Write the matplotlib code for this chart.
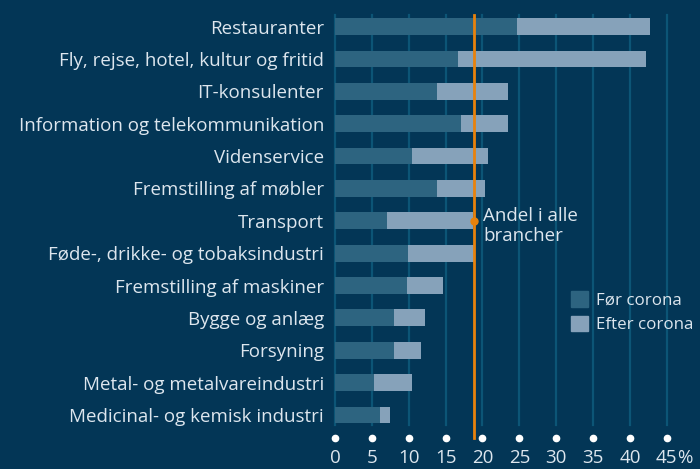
import matplotlib.pyplot as plt
from matplotlib.patches import Patch
import matplotlib.transforms as mtransforms

plt.rcParams["font.family"] = ["Open Sans", "DejaVu Sans"]

brancher = ["Restauranter", "Fly, rejse, hotel, kultur og fritid", "IT-konsulenter",
            "Information og telekommunikation", "Videnservice", "Fremstilling af møbler",
            "Transport", "Føde-, drikke- og tobaksindustri", "Fremstilling af maskiner",
            "Bygge og anlæg", "Forsyning", "Metal- og metalvareindustri",
            "Medicinal- og kemisk industri"]
foer = [24.7, 16.7, 13.9, 17.1, 10.4, 13.9, 7.1, 9.9, 9.8, 8.0, 8.0, 5.3, 6.1]
efter = [42.7, 42.2, 23.5, 23.4, 20.8, 20.4, 18.7, 18.9, 14.6, 12.2, 11.6, 10.5, 7.5]
andel_alle = 18.8
xticks = [0, 5, 10, 15, 20, 25, 30, 35, 40, 45]

bg = "#033656"
dark = "#2d6480"
light = "#86a2ba"
orange = "#e8820c"
grid = "#0c5576"
txt = "#dde6ee"
fs = 13.5

fig = plt.figure(figsize=(7, 4.69), dpi=100, facecolor=bg)
ax = fig.add_axes([0.4786, 0.0938, 0.4739, 0.874], facecolor=bg)

y = list(range(len(brancher)))
ax.barh(y, efter, height=0.52, color=light, zorder=2)
ax.barh(y, foer, height=0.52, color=dark, zorder=3)

ax.set_xlim(0, 45)
ax.set_ylim(12.31, -0.355)
for t in xticks:
    ax.axvline(t, color=grid, lw=1.6, zorder=1, clip_on=False)

ax.set_yticks(y)
ax.set_yticklabels(brancher, color=txt, fontsize=fs)
ax.set_xticks(xticks)
ax.set_xticklabels([str(t) for t in xticks], color=txt, fontsize=fs)
ax.tick_params(length=0, axis="y", pad=8)
ax.tick_params(length=0, axis="x", pad=17)
for s in ax.spines.values():
    s.set_visible(False)

# hvide prikker under gitterlinjerne
trans = mtransforms.blended_transform_factory(ax.transData, ax.transAxes)
ax.plot(xticks, [-0.032] * len(xticks), "o", color="white", ms=4.5,
        transform=trans, clip_on=False, zorder=5)
ax.annotate("%", xy=(45, 0), xycoords=trans, xytext=(7.8, -23.5),
            textcoords="offset points", color=txt, fontsize=fs,
            ha="left", va="center")

# linje for alle brancher
ax.plot([andel_alle, andel_alle], [-0.355, 12.71], color=orange, lw=2,
        clip_on=False, zorder=4)
ax.plot([andel_alle], [6], "o", color=orange, ms=5, zorder=5)
ax.text(20.1, 6.17, "Andel i alle\nbrancher", color=txt, fontsize=fs,
        va="center", ha="left", linespacing=1.15)

handles = [Patch(color=dark, label="Før corona"), Patch(color=light, label="Efter corona")]
ax.legend(handles=handles, loc="upper left", bbox_to_anchor=(563 / 700, 1 - 283 / 469),
          bbox_transform=fig.transFigure, frameon=False, fontsize=12.2,
          labelcolor=txt, handlelength=1.0, handleheight=1.0, handletextpad=0.45,
          labelspacing=0.4, borderpad=0)

fig.savefig("out.png", dpi=100, facecolor=bg)
